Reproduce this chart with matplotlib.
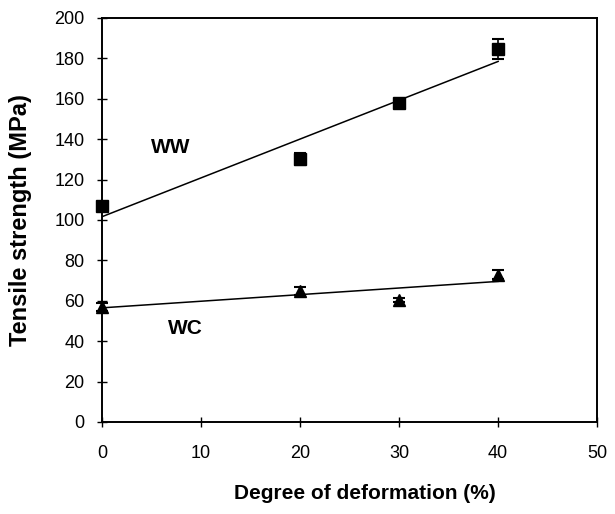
import numpy as np
import matplotlib
matplotlib.use('Agg')
import matplotlib.pyplot as plt

plt.rcParams['font.family'] = ['Liberation Sans', 'DejaVu Sans']

# degree of deformation (%)
deformation = [0, 20, 30, 40]

# tensile strength (MPa) and error bars
ww_strength = [107, 130, 158, 184.5]
ww_err = [2, 3, 1.5, 5]
wc_strength = [57, 65, 60.5, 73]
wc_err = [2, 2, 1, 2]

fig = plt.figure(figsize=(6.15, 5.14), dpi=100)
ax = fig.add_axes([0.166, 0.179, 0.805, 0.786])

for strength, err, marker in [(ww_strength, ww_err, 's'), (wc_strength, wc_err, '^')]:
    eb = ax.errorbar(deformation, strength, yerr=err, fmt=marker, color='black',
                     markersize=9, capsize=4, elinewidth=1.2, capthick=1.5, zorder=3)
    for art in eb.lines[0:1] + tuple(eb.lines[1]) + tuple(eb.lines[2]):
        art.set_clip_on(False)
    # linear trend line
    coef = np.polyfit(deformation, strength, 1)
    xs = np.array([deformation[0], deformation[-1]])
    ax.plot(xs, np.polyval(coef, xs), color='black', lw=1.1, zorder=2)

ax.text(6.9, 136, 'WW', fontsize=15, fontweight='bold', ha='center', va='center')
ax.text(8.4, 46.5, 'WC', fontsize=15, fontweight='bold', ha='center', va='center')

ax.set_xlim(0, 50)
ax.set_ylim(0, 200)
ax.set_xticks(range(0, 51, 10))
ax.set_yticks(range(0, 201, 20))
ax.tick_params(direction='inout', length=7, width=1, labelsize=13)
ax.tick_params(axis='x', pad=13)
ax.tick_params(axis='y', pad=9)
for sp in ax.spines.values():
    sp.set_linewidth(1.4)

ax.set_xlabel('Degree of deformation (%)', fontsize=15, fontweight='bold')
ax.set_ylabel('Tensile strength (MPa)', fontsize=17, fontweight='bold')
ax.xaxis.set_label_coords(0.53, -0.153)
ax.yaxis.set_label_coords(-0.141, 0.5)

fig.savefig('out.png', dpi=100)
